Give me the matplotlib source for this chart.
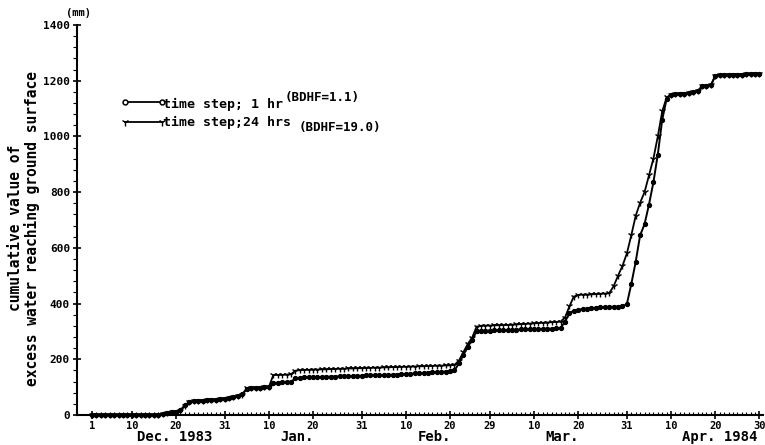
import matplotlib
matplotlib.use("Agg")
import numpy as np
import matplotlib.pyplot as plt

plt.rcParams['font.family'] = ['DejaVu Sans Mono']
plt.rcParams['font.weight'] = 'bold'

# days counted from 1 Dec 1983 (day 0) to 30 Apr 1984 (day 151)
days = np.arange(152)

# cumulative excess water (mm), time step 1 hr
hr1 = [0] * 16 + [
    4, 8, 10, 12, 18, 35, 46, 50, 51, 52, 53, 54, 55, 57, 58, 60, 63, 68, 74,
    95, 97, 97, 98, 99, 100,
    115, 116, 117, 118, 119,
    132, 134,
    135, 135, 136, 136, 137, 137, 138, 138, 139, 139, 140, 140, 141, 141, 142, 142,
    143, 143, 144, 144, 145, 145, 146, 147, 148, 149, 150, 151, 152, 153, 154, 155, 156, 157,
    160, 185, 215, 245, 270, 300, 302,
    303, 303, 304, 304, 305, 305, 306, 306, 307, 307, 308, 308, 309, 309, 310, 310, 311, 312,
    335, 365, 375, 378, 380, 382, 384, 385, 386, 387, 388, 389, 389, 390,
    398, 470, 550, 645, 685, 755, 835, 935, 1060, 1135,
    1150, 1152, 1153, 1154, 1155, 1158, 1162, 1180, 1182, 1183,
    1218, 1220, 1221, 1221, 1222, 1222, 1222, 1223, 1223, 1223, 1223]

# cumulative excess water (mm), time step 24 hrs
hr24 = [0] * 16 + [
    3, 6, 9, 12, 16, 32, 45, 50, 51, 52, 53, 54, 55, 56, 58, 60, 63, 67, 72,
    96, 97, 97, 98, 99, 100,
    143, 144, 144, 145, 146,
    159, 161,
    162, 162, 163, 163, 164, 164, 165, 165, 166, 166, 167, 167, 168, 168, 169, 169,
    170, 170, 171, 171, 172, 172, 173, 173, 174, 174, 175, 175, 176, 176, 177, 177, 178, 178,
    180, 195, 225, 255, 278, 317, 320,
    321, 321, 322, 322, 323, 323, 324, 325, 326, 327, 328, 329, 330, 331, 332, 333, 334, 335,
    350, 390, 425, 431, 432, 432, 433, 434, 435, 436, 437,
    462, 500, 535, 580, 645, 715, 762, 800, 860, 920, 1000, 1090, 1140,
    1150, 1152, 1153, 1154, 1155, 1158, 1162, 1180, 1182, 1183,
    1218, 1220, 1221, 1221, 1222, 1222, 1222, 1223, 1223, 1223, 1223]

tick_days = [0, 9, 19, 30, 40, 50, 61, 71, 81, 90, 100, 110, 121, 131, 141, 151]
tick_labels = ['1', '10', '20', '31', '10', '20', '31', '10', '20', '29',
               '10', '20', '31', '10', '20', '30']
month_names = ['Dec. 1983', 'Jan.', 'Feb.', 'Mar.', 'Apr. 1984']
month_pos = [18.8, 46.4, 77.4, 106.3, 141.9]

fig = plt.figure(figsize=(7.65, 4.45), dpi=100)
ax = fig.add_axes([77 / 765, 1 - 415 / 445, 686 / 765, 390 / 445])

ax.plot(days, hr1, color='black', lw=1.4, marker='o', ms=3.0, mfc='black',
        mec='black', mew=0.8, clip_on=False, zorder=3)
ax.plot(days, hr24, color='black', lw=1.3, marker='1', ms=5, mew=1.0,
        clip_on=False, zorder=3)

ax.set_xlim(-3.4, 151.8)
ax.set_ylim(0, 1400)

for s in ['top', 'right']:
    ax.spines[s].set_visible(False)
for s in ['left', 'bottom']:
    ax.spines[s].set_linewidth(1.5)

ax.set_xticks(tick_days)
ax.set_xticklabels(tick_labels)
ax.set_xticks(days, minor=True)
ax.tick_params(axis='x', which='major', direction='inout', length=6, width=1.2,
               labelsize=7.5, pad=1)
ax.tick_params(axis='x', which='minor', direction='in', length=2.5, width=0.8)

ax.set_yticks(np.arange(0, 1401, 200))
ax.set_yticks(np.arange(0, 1401, 40), minor=True)
ax.tick_params(axis='y', which='major', direction='inout', length=6, width=1.2,
               labelsize=8, pad=2)
ax.tick_params(axis='y', which='minor', direction='out', length=3, width=0.8)

# month names under the day labels
for name, pos in zip(month_names, month_pos):
    ax.text(pos, -0.056, name, transform=ax.get_xaxis_transform(),
            ha='center', va='center', fontsize=10)

fig.text(78 / 765, 1 - 13 / 445, '(mm)', ha='center', va='center', fontsize=7.5)
fig.text(24 / 765, 1 - 228 / 445,
         'cumulative value of\nexcess water reaching ground surface',
         rotation=90, ha='center', va='center', fontsize=10.5, linespacing=1.1)

# hand-made key
ax.plot([0.070, 0.124], [0.8026, 0.8026], transform=ax.transAxes, color='black',
        lw=1.3, marker='o', ms=3.5, mfc='white', mec='black', mew=1.1, clip_on=False)
ax.plot([0.070, 0.124], [0.751, 0.751], transform=ax.transAxes, color='black',
        lw=1.3, marker='1', ms=6, mew=1.0, clip_on=False)
ax.text(0.1254, 0.795, 'time step; 1 hr', transform=ax.transAxes,
        ha='left', va='center', fontsize=9.5)
ax.text(0.303, 0.815, '(BDHF=1.1)', transform=ax.transAxes,
        ha='left', va='center', fontsize=9)
ax.text(0.1254, 0.749, 'time step;24 hrs', transform=ax.transAxes,
        ha='left', va='center', fontsize=9.5)
ax.text(0.3236, 0.738, '(BDHF=19.0)', transform=ax.transAxes,
        ha='left', va='center', fontsize=9)

fig.savefig('out.png', dpi=100)
